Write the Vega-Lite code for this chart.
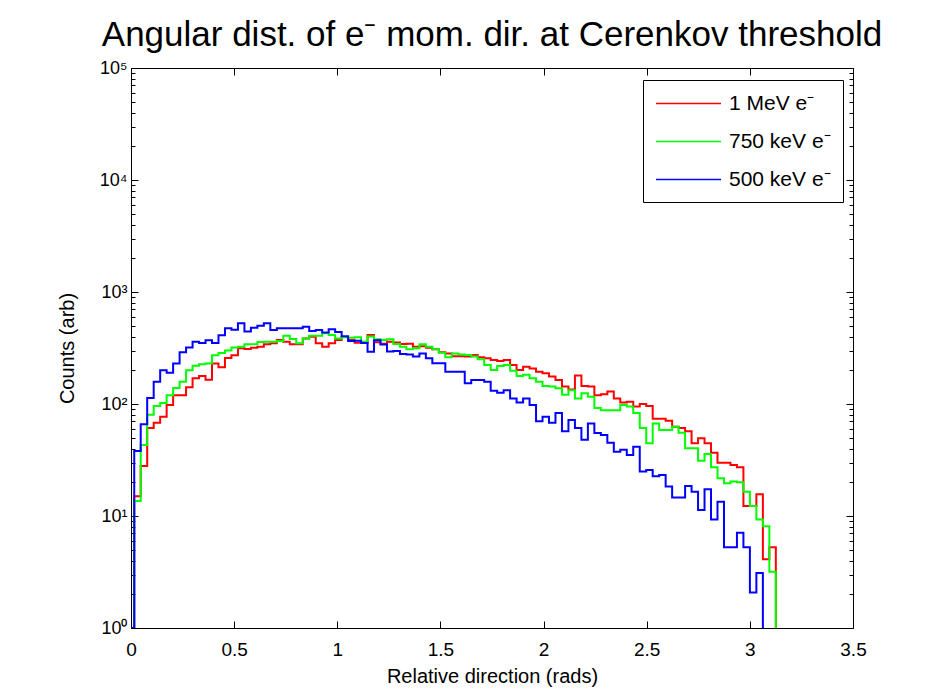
{
  "$schema": "https://vega.github.io/schema/vega-lite/v6.json",
  "width": 722,
  "height": 560,
  "autosize": {"type": "none"},
  "padding": {"left": 131, "top": 68, "right": 74, "bottom": 70},
  "background": "white",
  "config": {"font": "Liberation Sans", "view": {"stroke": null}},
  "title": {"text": "Angular dist. of e⁻ mom. dir. at Cerenkov threshold", "fontSize": 35, "fontWeight": "normal", "color": "black", "anchor": "middle", "frame": "group", "baseline": "alphabetic", "offset": -22},
  "data": {"values": [
    {"x": 0, "r": 1, "g": 1, "b": 1},
    {"x": 0.0157, "r": 15, "g": 13.6, "b": 38},
    {"x": 0.0471, "r": 28, "g": 43, "b": 66},
    {"x": 0.0785, "r": 61, "g": 80, "b": 113},
    {"x": 0.1100, "r": 68, "g": 96, "b": 158},
    {"x": 0.1414, "r": 77, "g": 102, "b": 200},
    {"x": 0.1728, "r": 98, "g": 120, "b": 190},
    {"x": 0.2042, "r": 120, "g": 139, "b": 230},
    {"x": 0.2356, "r": 120, "g": 158, "b": 290},
    {"x": 0.2670, "r": 141, "g": 200, "b": 320},
    {"x": 0.2985, "r": 170, "g": 220, "b": 360},
    {"x": 0.3299, "r": 178, "g": 226, "b": 350},
    {"x": 0.3613, "r": 165, "g": 230, "b": 370},
    {"x": 0.3927, "r": 230, "g": 272, "b": 350},
    {"x": 0.4241, "r": 213, "g": 285, "b": 410},
    {"x": 0.4555, "r": 257, "g": 300, "b": 475},
    {"x": 0.4869, "r": 272, "g": 320, "b": 460},
    {"x": 0.5184, "r": 315, "g": 325, "b": 525},
    {"x": 0.5498, "r": 310, "g": 341, "b": 443},
    {"x": 0.5812, "r": 318, "g": 341, "b": 480},
    {"x": 0.6126, "r": 325, "g": 358, "b": 500},
    {"x": 0.6440, "r": 341, "g": 360, "b": 525},
    {"x": 0.6754, "r": 348, "g": 360, "b": 457},
    {"x": 0.7069, "r": 373, "g": 366, "b": 474},
    {"x": 0.7383, "r": 360, "g": 407, "b": 474},
    {"x": 0.7697, "r": 341, "g": 380, "b": 474},
    {"x": 0.8011, "r": 341, "g": 348, "b": 474},
    {"x": 0.8325, "r": 385, "g": 385, "b": 490},
    {"x": 0.8639, "r": 399, "g": 407, "b": 449},
    {"x": 0.8954, "r": 348, "g": 407, "b": 457},
    {"x": 0.9268, "r": 325, "g": 428, "b": 436},
    {"x": 0.9582, "r": 348, "g": 414, "b": 466},
    {"x": 0.9896, "r": 372, "g": 385, "b": 440},
    {"x": 1.0210, "r": 396, "g": 395, "b": 402},
    {"x": 1.0524, "r": 373, "g": 390, "b": 365},
    {"x": 1.0838, "r": 352, "g": 394, "b": 367},
    {"x": 1.1153, "r": 350, "g": 360, "b": 350},
    {"x": 1.1467, "r": 414, "g": 400, "b": 293},
    {"x": 1.1781, "r": 355, "g": 378, "b": 370},
    {"x": 1.2095, "r": 345, "g": 373, "b": 340},
    {"x": 1.2409, "r": 360, "g": 378, "b": 295},
    {"x": 1.2723, "r": 354, "g": 343, "b": 298},
    {"x": 1.3038, "r": 343, "g": 325, "b": 280},
    {"x": 1.3352, "r": 345, "g": 308, "b": 276},
    {"x": 1.3666, "r": 325, "g": 314, "b": 266},
    {"x": 1.3980, "r": 328, "g": 341, "b": 283},
    {"x": 1.4294, "r": 318, "g": 325, "b": 256},
    {"x": 1.4608, "r": 308, "g": 308, "b": 231},
    {"x": 1.4923, "r": 290, "g": 287, "b": 231},
    {"x": 1.5237, "r": 283, "g": 261, "b": 194},
    {"x": 1.5551, "r": 267, "g": 283, "b": 194},
    {"x": 1.5865, "r": 267, "g": 277, "b": 194},
    {"x": 1.6179, "r": 265, "g": 274, "b": 153},
    {"x": 1.6493, "r": 274, "g": 265, "b": 164},
    {"x": 1.6807, "r": 261, "g": 251, "b": 164},
    {"x": 1.7122, "r": 256, "g": 223, "b": 158},
    {"x": 1.7436, "r": 247, "g": 201, "b": 131},
    {"x": 1.7750, "r": 242, "g": 218, "b": 126},
    {"x": 1.8064, "r": 247, "g": 223, "b": 133},
    {"x": 1.8378, "r": 223, "g": 198, "b": 112},
    {"x": 1.8692, "r": 201, "g": 178, "b": 103},
    {"x": 1.9007, "r": 215, "g": 182, "b": 112},
    {"x": 1.9321, "r": 208, "g": 170, "b": 98},
    {"x": 1.9635, "r": 194, "g": 158, "b": 70},
    {"x": 1.9949, "r": 188, "g": 145, "b": 77},
    {"x": 2.0263, "r": 176, "g": 143, "b": 68},
    {"x": 2.0577, "r": 164, "g": 138, "b": 83},
    {"x": 2.0892, "r": 143, "g": 121, "b": 57},
    {"x": 2.1206, "r": 135, "g": 133, "b": 72},
    {"x": 2.1520, "r": 180, "g": 112, "b": 61},
    {"x": 2.1834, "r": 145, "g": 125, "b": 48},
    {"x": 2.2148, "r": 143, "g": 116, "b": 67},
    {"x": 2.2462, "r": 120, "g": 92, "b": 55},
    {"x": 2.2777, "r": 122, "g": 88, "b": 53},
    {"x": 2.3091, "r": 129, "g": 88, "b": 45},
    {"x": 2.3405, "r": 112, "g": 88, "b": 37.5},
    {"x": 2.3719, "r": 103, "g": 98, "b": 39},
    {"x": 2.4033, "r": 105, "g": 95, "b": 35},
    {"x": 2.4347, "r": 95, "g": 83, "b": 41.6},
    {"x": 2.4662, "r": 100, "g": 61, "b": 25},
    {"x": 2.4976, "r": 96, "g": 44.6, "b": 25.7},
    {"x": 2.5290, "r": 74, "g": 67, "b": 22.7},
    {"x": 2.5604, "r": 74, "g": 58.6, "b": 23.2},
    {"x": 2.5918, "r": 71, "g": 58.6, "b": 18.3},
    {"x": 2.6232, "r": 62.8, "g": 62.8, "b": 14.6},
    {"x": 2.6546, "r": 61, "g": 55.5, "b": 14.6},
    {"x": 2.6861, "r": 57, "g": 40.2, "b": 18.5},
    {"x": 2.7175, "r": 44.6, "g": 40.2, "b": 16.5},
    {"x": 2.7489, "r": 49.4, "g": 31.2, "b": 11.3},
    {"x": 2.7803, "r": 44.6, "g": 35.8, "b": 17.3},
    {"x": 2.8117, "r": 36.8, "g": 27.2, "b": 9.3},
    {"x": 2.8431, "r": 29.9, "g": 21.7, "b": 13.4},
    {"x": 2.8746, "r": 29.9, "g": 19.6, "b": 5.25},
    {"x": 2.9060, "r": 28.5, "g": 20.3, "b": 5.25},
    {"x": 2.9374, "r": 27.2, "g": 20, "b": 7.1},
    {"x": 2.9688, "r": 12.3, "g": 16.5, "b": 5.25},
    {"x": 3.0002, "r": 12.3, "g": 12.3, "b": 2.07},
    {"x": 3.0316, "r": 15.6, "g": 9.3, "b": 3.1},
    {"x": 3.0631, "r": 4.1, "g": 8.1, "b": 1},
    {"x": 3.0945, "r": 5.25, "g": 3.18},
    {"x": 3.1259, "r": 1, "g": 1}
  ]},
  "transform": [
    {"fold": ["r", "g", "b"], "as": ["s", "v"]},
    {"filter": "isValid(datum.v)"}
  ],
  "layer": [
    {
      "mark": {"type": "line", "interpolate": "step-after", "strokeWidth": 2, "clip": true},
      "encoding": {
        "x": {"field": "x", "type": "quantitative",
          "scale": {"domain": [0, 3.5], "nice": false, "zero": false},
          "axis": {"orient": "bottom", "values": [0, 0.5, 1, 1.5, 2, 2.5, 3, 3.5], "format": "~g", "title": "Relative direction (rads)",
            "titleFontSize": 20, "titleFontWeight": "normal", "titleColor": "black", "titlePadding": 7,
            "labelFontSize": 19, "labelColor": "black", "labelPadding": 19, "labelFlush": false, "labelOverlap": false,
            "tickSize": -7, "tickColor": "black", "domainColor": "black", "grid": false}},
        "y": {"field": "v", "type": "quantitative",
          "scale": {"type": "log", "domain": [1, 100000], "nice": false},
          "axis": {"orient": "left",
            "values": [1,2,3,4,5,6,7,8,9,10,20,30,40,50,60,70,80,90,100,200,300,400,500,600,700,800,900,1000,2000,3000,4000,5000,6000,7000,8000,9000,10000,20000,30000,40000,50000,60000,70000,80000,90000,100000],
            "labelExpr": "abs(log(datum.value)/LN10 - round(log(datum.value)/LN10)) < 0.001 ? '10' + ['⁰','¹','²','³','⁴','⁵'][round(log(datum.value)/LN10)] : ''",
            "title": "Counts (arb)", "titleFontSize": 20, "titleFontWeight": "normal", "titleColor": "black", "titlePadding": 22,
            "labelFontSize": 18, "labelColor": "black", "labelPadding": 11, "labelFlush": false, "labelOverlap": false,
            "tickSize": {"condition": {"test": "abs(log(datum.value)/LN10 - round(log(datum.value)/LN10)) < 0.001", "value": -7}, "value": -4},
            "tickColor": "black", "domainColor": "black", "grid": false}},
        "color": {"field": "s", "type": "nominal",
          "scale": {"domain": ["r", "g", "b"], "range": ["#ff0000", "#00ff00", "#0000ff"]},
          "legend": {"orient": "none", "legendX": 512, "legendY": 12, "title": null, "symbolType": "M-3,0H3", "symbolStrokeWidth": 1.3, "symbolSize": 469, "symbolOffset": 22,
            "labelFontSize": 21, "labelColor": "black", "strokeColor": "black", "fillColor": "white", "padding": 12, "rowPadding": 16, "labelOffset": 29,
            "labelExpr": "datum.label == 'r' ? '1 MeV e⁻' : datum.label == 'g' ? '750 keV e⁻' : '500 keV e⁻'",
            "encode": {"symbols": {"update": {"stroke": {"signal": "datum.value == 'r' ? '#ff0000' : datum.value == 'g' ? '#00ff00' : '#0000ff'"}, "fill": {"value": null}, "strokeOpacity": {"value": 1}, "opacity": {"value": 1}}}}}}
      }
    },
    {
      "mark": {"type": "line", "opacity": 0},
      "encoding": {
        "x": {"field": "x", "type": "quantitative",
          "axis": {"orient": "top", "values": [0, 0.5, 1, 1.5, 2, 2.5, 3, 3.5], "labels": false, "title": null,
            "tickSize": -7, "tickColor": "black", "domainColor": "black", "grid": false}},
        "y": {"field": "v", "type": "quantitative",
          "axis": {"orient": "right",
            "values": [1,2,3,4,5,6,7,8,9,10,20,30,40,50,60,70,80,90,100,200,300,400,500,600,700,800,900,1000,2000,3000,4000,5000,6000,7000,8000,9000,10000,20000,30000,40000,50000,60000,70000,80000,90000,100000],
            "labels": false, "title": null,
            "tickSize": {"condition": {"test": "abs(log(datum.value)/LN10 - round(log(datum.value)/LN10)) < 0.001", "value": -7}, "value": -4},
            "tickColor": "black", "domainColor": "black", "grid": false}},
        "detail": {"field": "s", "type": "nominal"}
      }
    }
  ],
  "resolve": {"axis": {"x": "independent", "y": "independent"}}
}
